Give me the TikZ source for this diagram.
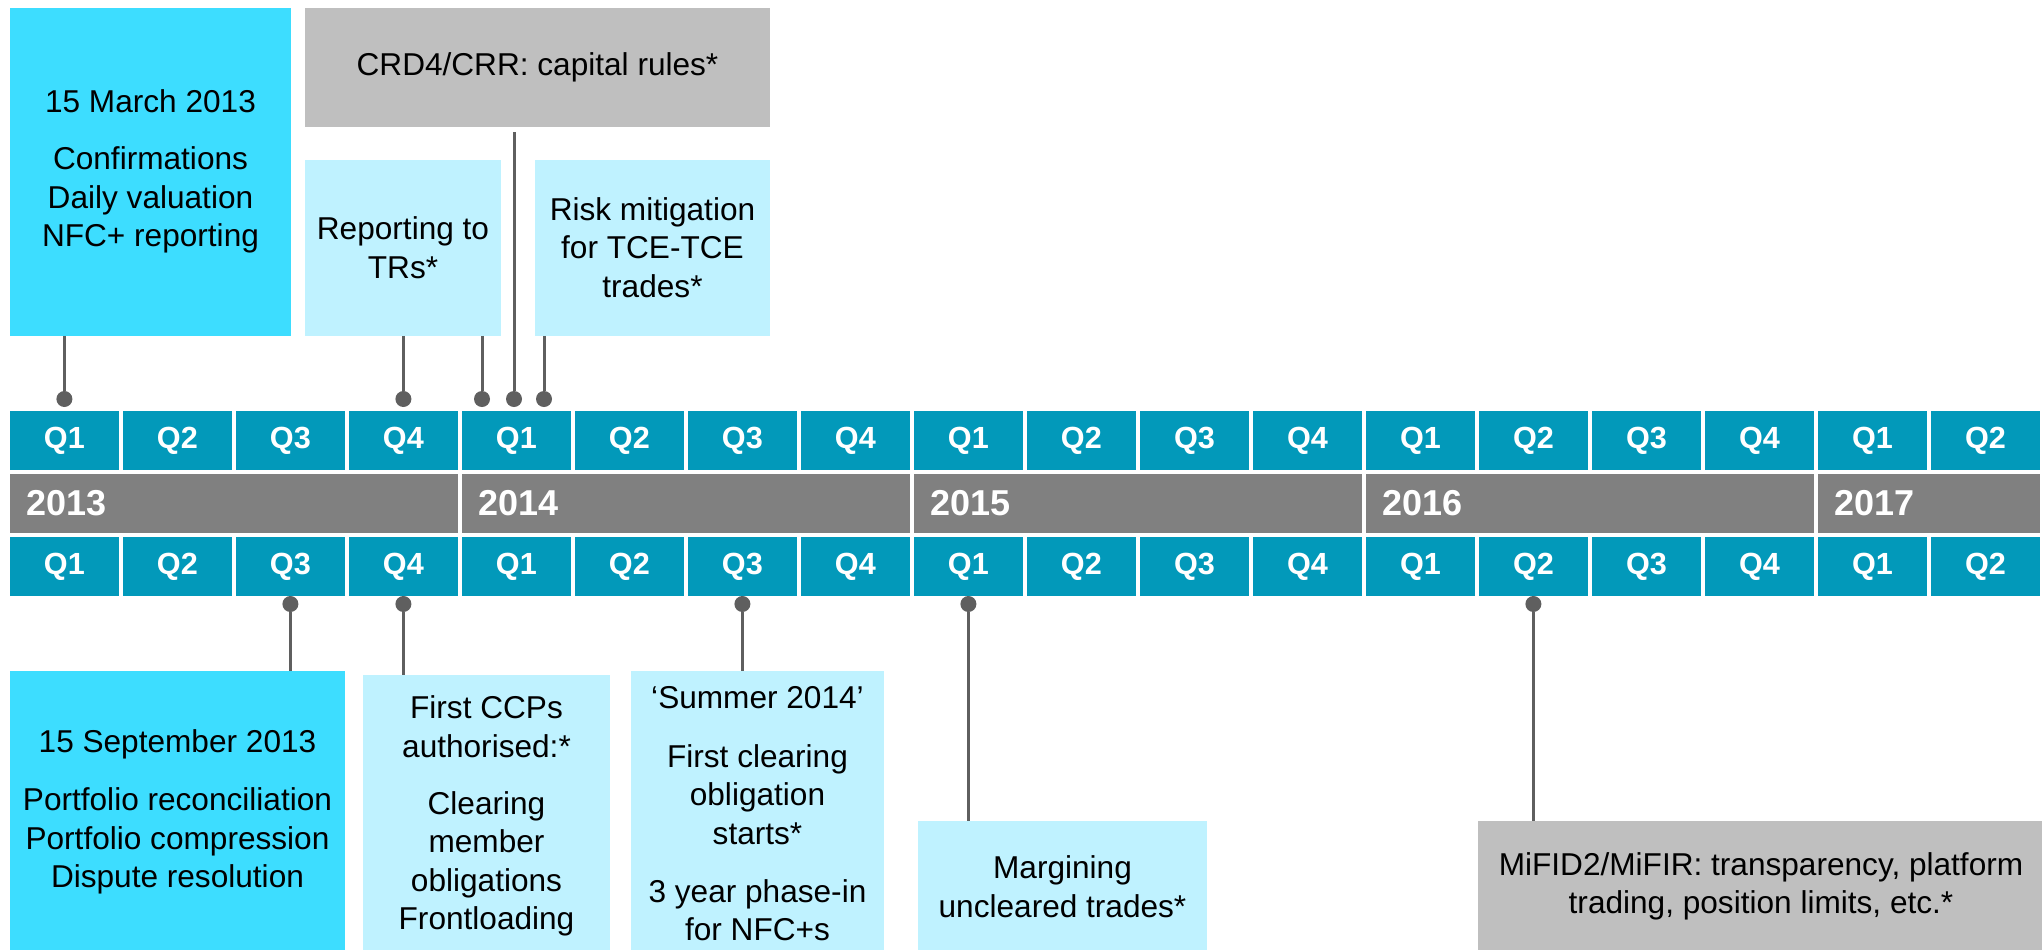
\documentclass[tikz,border=0pt]{standalone}
\usepackage{fontspec}
\setmainfont{Liberation Sans}
\definecolor{qteal}{RGB}{2,153,186}
\definecolor{yeargray}{RGB}{128,128,128}
\definecolor{brightcyan}{RGB}{61,221,255}
\definecolor{lightcyan}{RGB}{191,242,255}
\definecolor{boxgray}{RGB}{191,191,191}
\definecolor{linegray}{RGB}{95,95,95}
\begin{document}
\begin{tikzpicture}[x=0.5pt,y=-0.5pt,
  qcell/.style={fill=qteal, text=white, font=\fontsize{15.3}{18}\selectfont\bfseries,
    minimum width=54.4pt, minimum height=29.5pt, inner sep=0pt},
  yearbar/.style={fill=yeargray, text=white, font=\fontsize{18}{21}\selectfont\bfseries,
    anchor=west, minimum height=29.5pt, inner ysep=0pt, inner xsep=8pt, align=left},
  note/.style={inner sep=0pt, align=center, font=\fontsize{15.8}{19.2}\selectfont, text=black},
  keybox/.style={note, fill=brightcyan},
  softbox/.style={note, fill=lightcyan},
  greybox/.style={note, fill=boxgray},
  dot/.style={circle, fill=linegray, inner sep=0pt, minimum size=8pt},
  conn/.style={draw=linegray, line width=1.5pt}
]
\useasboundingbox (0,0) rectangle (2042,949);
\clip (0,0) rectangle (2042,949);

% quarter rows above and below the year bar
\foreach \i in {0,...,17} {
  \pgfmathtruncatemacro\q{mod(\i,4)+1}
  \node[qcell] (qt\i) at ({64.4+113*\i},440.5) {Q\q};
  \node[qcell] (qb\i) at ({64.4+113*\i},566.5) {Q\q};
}

% year bar
\node[yearbar, text width=207.9pt] (y2013) at (10,503.5) {2013};
\node[yearbar, text width=207.9pt] (y2014) at (462,503.5) {2014};
\node[yearbar, text width=207.9pt] (y2015) at (914,503.5) {2015};
\node[yearbar, text width=207.9pt] (y2016) at (1366,503.5) {2016};
\node[yearbar, text width=94.9pt] (y2017) at (1818,503.5) {2017};

% milestones above the timeline
\node[keybox, minimum width=140.5pt, minimum height=164pt] (march) at (150.5,171.5)
  {15 March 2013\\[9.5pt]Confirmations\\Daily valuation\\NFC+ reporting};
\node[greybox, minimum width=232.5pt, minimum height=59.25pt] (crd) at (537.5,67.25)
  {CRD4/CRR: capital rules*};
\node[softbox, minimum width=98pt, minimum height=88pt] (rep) at (403,247.5)
  {Reporting to\\TRs*};
\node[softbox, minimum width=117.5pt, minimum height=88pt] (risk) at (652.5,247.5)
  {Risk mitigation\\for TCE-TCE\\trades*};

% milestones below the timeline
\node[keybox, minimum width=167.5pt, minimum height=141pt] (sept) at (177.5,812)
  {15 September 2013\\[10pt]Portfolio reconciliation\\Portfolio compression\\Dispute resolution};
\node[softbox, minimum width=123.5pt, minimum height=141pt] (ccp) at (486.5,816)
  {First CCPs\\authorised:*\\[9.5pt]Clearing\\member\\obligations\\Frontloading};
\node[softbox, minimum width=126.5pt, minimum height=143pt] (summer) at (757.5,814)
  {‘Summer 2014’\\[10pt]First clearing\\obligation\\starts*\\[10pt]3 year phase-in\\for NFC+s};
\node[softbox, minimum width=144.5pt, minimum height=65.5pt] (marg) at (1062.5,886.5)
  {Margining\\uncleared trades*};
\node[greybox, minimum width=283pt, minimum height=65.5pt] (mifid) at (1761,886.5)
  {MiFID2/MiFIR: transparency, platform\\trading, position limits, etc.*};

% date markers
\node[dot] (t0) at (64.4,399) {};
\node[dot] (t1) at (403.4,399) {};
\node[dot] (t2) at (482,399) {};
\node[dot] (t3) at (514,399) {};
\node[dot] (t4) at (544,399) {};
\node[dot] (b0) at (290.4,604) {};
\node[dot] (b1) at (403.4,604) {};
\node[dot] (b2) at (742.4,604) {};
\node[dot] (b3) at (968.4,604) {};
\node[dot] (b4) at (1533.4,604) {};

% leader lines
\draw[conn] (march.south -| t0) -- (t0);
\draw[conn] (rep.south -| t1) -- (t1);
\draw[conn] (rep.south -| t2) -- (t2);
\draw[conn, shorten >=2.75pt] (t3) -- (crd.south -| t3);
\draw[conn] (risk.south -| t4) -- (t4);
\draw[conn] (b0) -- (sept.north -| b0);
\draw[conn] (b1) -- (ccp.north -| b1);
\draw[conn] (b2) -- (summer.north -| b2);
\draw[conn] (b3) -- (marg.north -| b3);
\draw[conn] (b4) -- (mifid.north -| b4);
\end{tikzpicture}
\end{document}
